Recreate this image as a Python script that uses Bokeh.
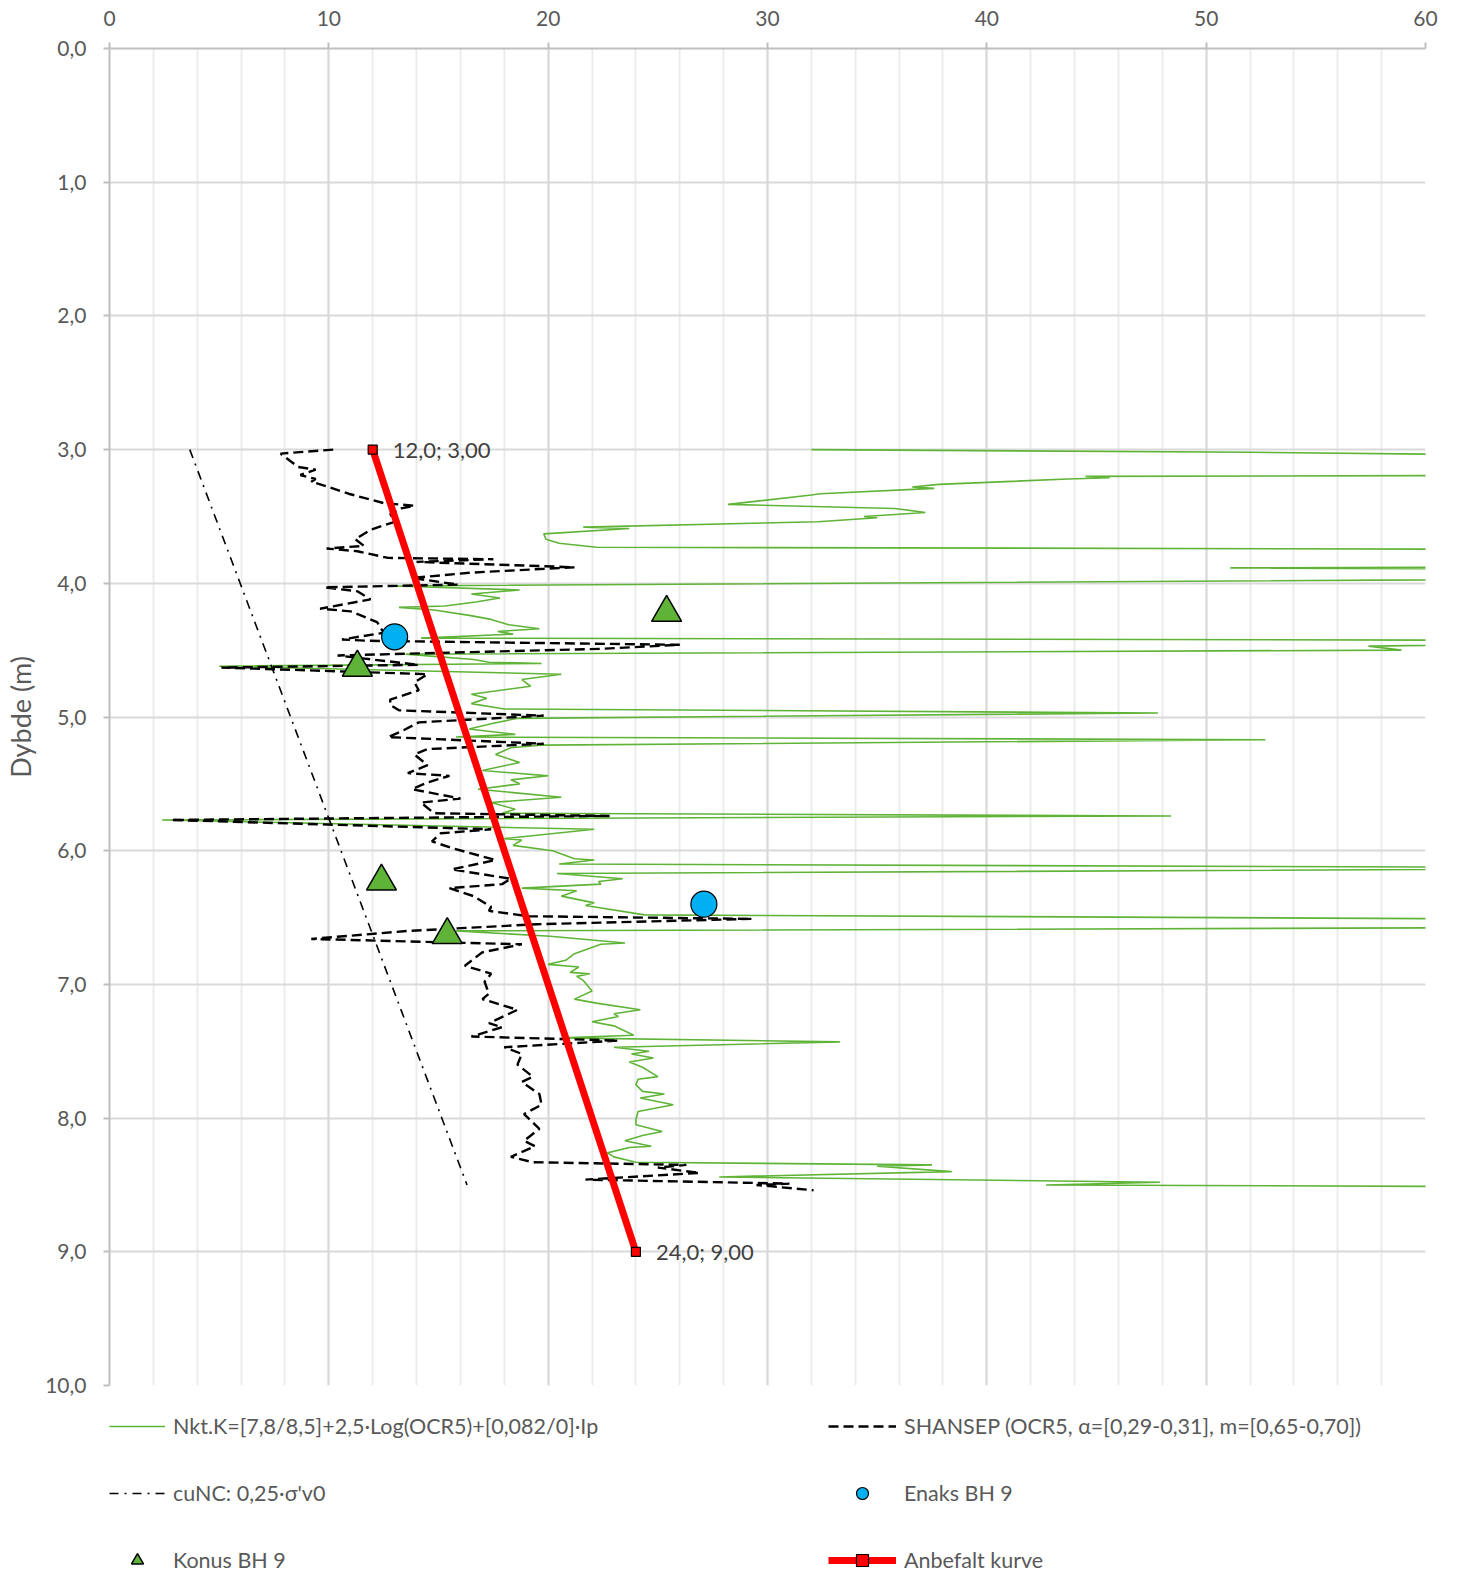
import numpy as np
from bokeh.plotting import figure
from bokeh.layouts import column
from bokeh.models import Range1d, FixedTicker, Legend, LegendItem
from bokeh.embed import file_html
from bokeh.resources import INLINE
from bokeh.core.properties import value

# ---------------- data ----------------
x_ticks = [0, 10, 20, 30, 40, 50, 60]
x_minor_ticks = list(range(0, 61, 2))
y_ticks = [0, 1, 2, 3, 4, 5, 6, 7, 8, 9, 10]
y_tick_labels = ["0,0", "1,0", "2,0", "3,0", "4,0", "5,0", "6,0", "7,0", "8,0", "9,0", "10,0"]

nkt_depth = [3.00, 3.02, 3.06, 3.19, 3.20, 3.21, 3.22, 3.26, 3.28, 3.29, 3.33, 3.34, 3.41, 3.44,
             3.47, 3.50, 3.51, 3.54, 3.58, 3.59, 3.63, 3.67, 3.70, 3.73, 3.75, 3.87, 3.885, 3.90,
             3.96, 4.02, 4.05, 4.08, 4.11, 4.14, 4.17, 4.18, 4.20, 4.24, 4.27, 4.31, 4.34, 4.36,
             4.38, 4.41, 4.43, 4.47, 4.50, 4.53, 4.57, 4.59, 4.60, 4.62, 4.68, 4.72, 4.77, 4.83,
             4.86, 4.90, 4.94, 4.97, 5.01, 5.05, 5.09, 5.13, 5.15, 5.17, 5.21, 5.23, 5.28, 5.34,
             5.40, 5.44, 5.47, 5.50, 5.54, 5.60, 5.64, 5.69, 5.72, 5.74, 5.77, 5.84, 5.91, 5.92,
             5.96, 6.00, 6.06, 6.07, 6.10, 6.13, 6.17, 6.21, 6.23, 6.25, 6.28, 6.30, 6.34, 6.39,
             6.41, 6.48, 6.52, 6.57, 6.60, 6.64, 6.69, 6.70, 6.77, 6.82, 6.85, 6.87, 6.91, 6.92,
             6.94, 6.97, 7.05, 7.11, 7.14, 7.19, 7.22, 7.24, 7.28, 7.31, 7.38, 7.40, 7.43, 7.47,
             7.50, 7.52, 7.55, 7.58, 7.62, 7.69, 7.71, 7.75, 7.80, 7.82, 7.85, 7.90, 7.95, 8.01,
             8.05, 8.10, 8.13, 8.17, 8.21, 8.22, 8.26, 8.29, 8.33, 8.35, 8.36, 8.40, 8.44, 8.48,
             8.50, 8.52]
nkt_cu = [32.0, 52.0, 75.0, 75.0, 44.5, 45.6, 43.7, 37.8, 36.6, 37.6, 32.4, 32.0, 28.2, 35.8,
          37.2, 34.4, 35.0, 32.3, 21.6, 23.7, 19.8, 19.9, 20.5, 22.2, 75.0, 75.0, 51.1, 75.0,
          75.0, 13.0, 18.7, 16.5, 17.8, 16.7, 15.3, 13.2, 14.8, 16.4, 17.4, 18.2, 19.6, 17.7,
          18.4, 14.2, 75.0, 57.4, 58.9, 13.5, 16.6, 17.3, 19.7, 5.0, 20.6, 18.8, 19.2, 16.5,
          17.2, 16.5, 18.0, 47.8, 18.6, 17.4, 16.4, 18.5, 15.8, 52.7, 19.8, 18.3, 17.6, 18.7,
          17.0, 20.0, 18.3, 18.7, 16.8, 20.6, 17.4, 18.5, 17.9, 48.4, 2.4, 22.1, 18.0, 18.8,
          18.4, 20.2, 21.2, 22.1, 20.5, 75.0, 20.4, 23.4, 22.3, 22.4, 18.8, 21.3, 20.6, 22.1,
          21.7, 24.4, 75.0, 75.0, 15.8, 20.1, 23.5, 22.4, 21.2, 20.8, 20.0, 21.4, 21.0, 21.9,
          21.3, 21.6, 22.0, 21.2, 22.2, 24.2, 23.0, 23.2, 22.0, 23.0, 23.9, 20.6, 33.3, 23.0,
          24.6, 23.8, 24.8, 23.7, 24.3, 25.0, 24.1, 24.0, 24.3, 25.3, 24.2, 25.7, 24.1, 24.0,
          24.0, 25.2, 24.3, 23.5, 24.7, 23.7, 22.7, 23.0, 24.0, 37.5, 35.0, 38.4, 27.8, 47.9,
          42.7, 75.0]

shansep_depth = [3.00, 3.03, 3.13, 3.15, 3.19, 3.22, 3.24, 3.28, 3.33, 3.40, 3.42, 3.44, 3.48,
                 3.54, 3.60, 3.67, 3.72, 3.74, 3.76, 3.81, 3.82, 3.84, 3.88, 3.92, 3.96, 4.01,
                 4.03, 4.06, 4.12, 4.19, 4.21, 4.29, 4.37, 4.42, 4.43, 4.46, 4.49, 4.54, 4.61,
                 4.63, 4.68, 4.74, 4.80, 4.87, 4.91, 4.95, 4.99, 5.04, 5.10, 5.15, 5.20, 5.24,
                 5.28, 5.36, 5.42, 5.44, 5.49, 5.54, 5.61, 5.64, 5.72, 5.74, 5.77, 5.84, 5.87,
                 5.93, 5.98, 6.07, 6.14, 6.21, 6.25, 6.28, 6.34, 6.42, 6.45, 6.49, 6.51, 6.55,
                 6.60, 6.66, 6.70, 6.76, 6.86, 6.92, 6.98, 7.07, 7.11, 7.19, 7.29, 7.32, 7.39,
                 7.42, 7.47, 7.52, 7.60, 7.69, 7.73, 7.82, 7.90, 7.97, 8.08, 8.17, 8.21, 8.29,
                 8.33, 8.35, 8.37, 8.41, 8.46, 8.49, 8.50, 8.54]
shansep_cu = [10.2, 7.8, 8.6, 9.4, 8.7, 9.4, 9.2, 10.0, 10.9, 12.5, 13.9, 13.3, 12.8,
              13.0, 11.9, 11.2, 11.6, 9.9, 11.3, 12.7, 17.5, 14.0, 21.2, 16.5, 13.8, 15.9,
              9.8, 11.3, 11.9, 9.6, 11.0, 12.2, 12.5, 10.6, 11.8, 26.0, 22.4, 10.4, 14.1,
              5.1, 14.5, 13.9, 14.1, 12.8, 12.8, 13.2, 19.8, 14.1, 13.4, 12.7, 19.8, 14.5,
              13.9, 14.5, 13.6, 15.5, 14.5, 13.8, 16.0, 14.2, 14.8, 22.8, 2.8, 17.4, 15.1,
              14.7, 15.6, 17.6, 15.6, 18.3, 17.9, 15.5, 16.6, 17.4, 17.3, 19.1, 29.3, 19.5,
              13.6, 9.2, 18.8, 17.0, 16.2, 17.4, 17.1, 17.3, 17.0, 18.6, 17.3, 17.9, 16.5,
              23.2, 18.0, 18.8, 18.6, 19.3, 18.8, 19.6, 19.7, 18.9, 19.6, 18.9, 19.4, 18.3,
              19.3, 26.3, 25.0, 26.9, 21.7, 31.0, 29.5, 32.1]

cunc_depth = [3.0, 8.5]
cunc_cu = [3.66, 16.3]

enaks_depth = [4.40, 6.40]
enaks_cu = [13.0, 27.1]

konus_depth = [4.22, 4.63, 6.23, 6.63]
konus_cu = [25.4, 11.3, 12.4, 15.4]

anbefalt_depth = [3.0, 9.0]
anbefalt_cu = [12.0, 24.0]
anbefalt_labels = ["12,0; 3,00", "24,0; 9,00"]

series_names = ["Nkt.K=[7,8/8,5]+2,5·Log(OCR5)+[0,082/0]·Ip",
                "SHANSEP (OCR5, α=[0,29-0,31], m=[0,65-0,70])",
                "cuNC: 0,25·σ'v0",
                "Enaks BH 9",
                "Konus BH 9",
                "Anbefalt kurve"]
y_axis_title = "Dybde (m)"

# ---------------- styles ----------------
FONT = "Lato"
TXT = "#595959"
GREEN = "#5fb437"
BLUE = "#00b0f0"
RED = "#ff0000"

STYLE = {
    "nkt": dict(line_color=GREEN, line_width=1.6),
    "sh": dict(line_color="black", line_width=2.4, line_dash="10 5"),
    "cunc": dict(line_color="black", line_width=1.6, line_dash="9 6 2 6"),
    "enaks": dict(marker="circle", size=26, fill_color=BLUE, line_color="black", line_width=1.2),
    "konus": dict(marker="triangle", size=30, fill_color=GREEN, line_color="black", line_width=1.5),
    "anb": dict(line_color=RED, line_width=7),
    "anb_pts": dict(marker="square", size=9, fill_color=RED, line_color="black", line_width=1.2),
}

p = figure(width=1449, height=1400, output_backend="svg", toolbar_location=None,
           x_axis_location="above",
           x_range=Range1d(0, 60), y_range=Range1d(10, 0),
           min_border_left=109, min_border_right=24, min_border_top=48, min_border_bottom=15)
p.outline_line_color = None

# axes
xa = p.xaxis[0]
xa.ticker = FixedTicker(ticks=x_ticks, minor_ticks=x_minor_ticks)
ya = p.yaxis[0]
ya.ticker = FixedTicker(ticks=y_ticks, minor_ticks=[])
ya.major_label_overrides = {t: l for t, l in zip(y_ticks, y_tick_labels)}
for ax in (xa, ya):
    ax.axis_line_color = "#bfbfbf"
    ax.axis_line_width = 2
    ax.major_tick_line_color = "#bfbfbf"
    ax.major_tick_line_width = 2
    ax.major_tick_out = 6
    ax.major_tick_in = 0
    ax.minor_tick_out = 0
    ax.minor_tick_in = 0
    ax.major_label_text_font = FONT
    ax.major_label_text_font_size = "21px"
    ax.major_label_text_color = TXT
xa.major_label_standoff = 17
ya.major_label_standoff = 17
ya.axis_label = y_axis_title
ya.axis_label_text_font = FONT
ya.axis_label_text_font_size = "27px"
ya.axis_label_text_font_style = "normal"
ya.axis_label_text_color = TXT
ya.axis_label_standoff = 5

# grids
p.xgrid.ticker = xa.ticker
p.xgrid.grid_line_color = "#d9d9d9"
p.xgrid.grid_line_width = 2
p.xgrid.minor_grid_line_color = "#ececec"
p.xgrid.minor_grid_line_width = 2
p.ygrid.ticker = ya.ticker
p.ygrid.grid_line_color = "#d9d9d9"
p.ygrid.grid_line_width = 2

# series
p.line(nkt_cu, nkt_depth, **STYLE["nkt"])
p.line(shansep_cu, shansep_depth, **STYLE["sh"])
p.line(cunc_cu, cunc_depth, **STYLE["cunc"])
p.scatter(enaks_cu, enaks_depth, **STYLE["enaks"])
p.scatter(konus_cu, konus_depth, **STYLE["konus"])
p.line(anbefalt_cu, anbefalt_depth, **STYLE["anb"])
p.scatter(anbefalt_cu, anbefalt_depth, **STYLE["anb_pts"])
p.text(anbefalt_cu, anbefalt_depth, text=anbefalt_labels, x_offset=20,
       text_baseline="middle", text_align="left", text_font=value(FONT),
       text_font_size="22px", text_color="#404040")

# ---------------- legend panel (separate strip under the plot) ----------------
lf = figure(width=1449, height=173, output_backend="svg", toolbar_location=None,
            x_axis_type=None, y_axis_type=None, x_range=Range1d(0, 1), y_range=Range1d(0, 1),
            min_border_left=109, min_border_right=24, min_border_top=0, min_border_bottom=0)
lf.outline_line_color = None
lf.xgrid.visible = False
lf.ygrid.visible = False

# legend proxies: one NaN point each, so nothing is drawn in the strip itself
nan = np.array([np.nan])
g_nkt = lf.line(nan, nan, **STYLE["nkt"])
g_sh = lf.line(nan, nan, **STYLE["sh"])
g_cunc = lf.line(nan, nan, **STYLE["cunc"])
g_enaks = lf.scatter(nan, nan, **STYLE["enaks"])
g_konus = lf.scatter(nan, nan, **STYLE["konus"])
g_anb = lf.line(nan, nan, **STYLE["anb"])
g_anb_pts = lf.scatter(nan, nan, **STYLE["anb_pts"])

leg_renderers = [[g_nkt], [g_sh], [g_cunc], [g_enaks], [g_konus], [g_anb, g_anb_pts]]
items = [LegendItem(label=n, renderers=r) for n, r in zip(series_names, leg_renderers)]


def make_legend(its, loc, gw):
    return Legend(items=its, location=loc, orientation="vertical",
                  glyph_width=gw, glyph_height=30, label_height=30, label_standoff=8,
                  spacing=37, padding=0, margin=0,
                  border_line_color=None, background_fill_alpha=0,
                  label_text_font=FONT, label_text_font_size="21.5px", label_text_color=TXT)


lf.add_layout(make_legend([items[0], items[2], items[4]], (0, -2), 56), "center")
lf.add_layout(make_legend([items[1], items[3], items[5]], (719, -2), 68), "center")

layout = column(p, lf, spacing=0)
open("out.html", "w").write(file_html(layout, INLINE))
